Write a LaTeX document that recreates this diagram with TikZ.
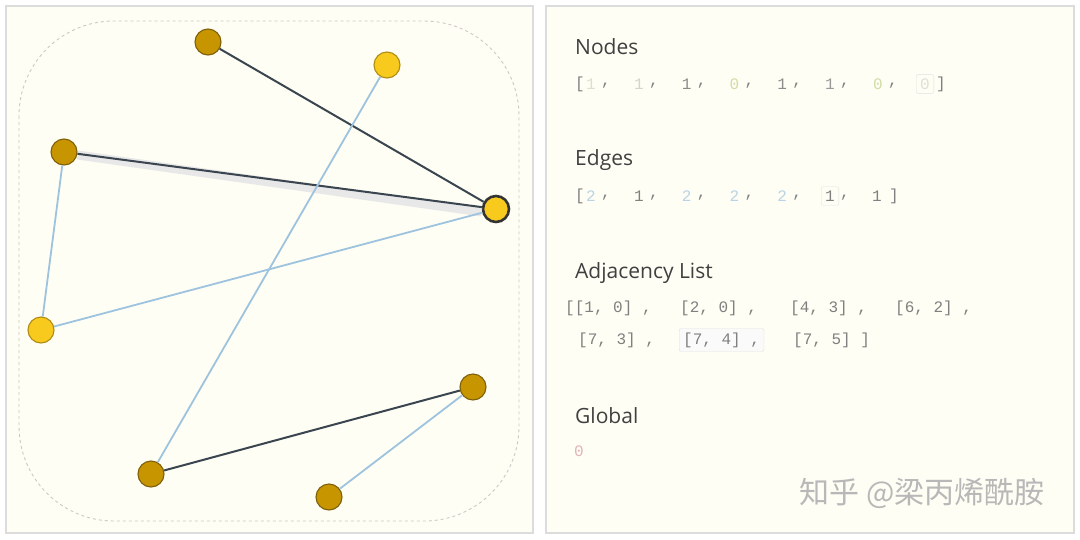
\documentclass[tikz,border=0pt]{standalone}
\usepackage{fontspec}
\setmainfont{Open Sans}
\setmonofont{Liberation Mono}
\newfontfamily\cjk{Noto Sans CJK SC}
\usetikzlibrary{positioning}
\definecolor{paper}{HTML}{FEFEF4}
\definecolor{frame}{HTML}{DCDCDC}
\definecolor{gold}{HTML}{C69500}
\definecolor{goldrim}{HTML}{7E600A}
\definecolor{sun}{HTML}{F8CA1E}
\definecolor{sunrim}{HTML}{B08C14}
\definecolor{slate}{HTML}{3A4550}
\definecolor{sky}{HTML}{9DC3DF}
\definecolor{pale}{HTML}{D2DDA6}
\definecolor{paleb}{HTML}{B9D3E4}
\definecolor{rose}{HTML}{E2B4BC}
\tikzset{
  panel/.style={draw=frame, line width=1.5pt, fill=paper},
  vtx/.style={circle, draw=#1rim, fill=#1, line width=1.1pt, minimum size=26pt, inner sep=0pt},
  hot/.style={circle, draw=black!80, fill=sun, line width=2.6pt, minimum size=26pt, inner sep=0pt},
  dk/.style={draw=slate, line width=2pt},
  lt/.style={draw=sky, line width=1.8pt},
  hdr/.style={font=\fontsize{21}{25}\selectfont, text=black!75, anchor=west, inner sep=0pt},
  val/.style={font=\ttfamily\fontsize{16}{19}\selectfont, text=black!50, inner sep=0pt},
  sel/.style={draw=black!12, rounded corners=2pt, inner sep=4pt}
}
\begin{document}
\begin{tikzpicture}[x=1pt, y=-1pt]
  \useasboundingbox (0,0) rectangle (1080,539);
  % panels
  \draw[panel] (6,6) rectangle (533,533);
  \draw[panel] (546,6) rectangle (1074,533);
  \draw[draw=red!15!black!22, dashed, line width=0.9pt, rounded corners=95pt] (19,21) rectangle (519,521);

  % graph
  \node[vtx=gold] (a) at (208,42) {};
  \node[vtx=sun]  (b) at (387,65) {};
  \node[vtx=gold] (c) at (64,152) {};
  \node[hot]      (d) at (496,209) {};
  \node[vtx=sun]  (e) at (41,330) {};
  \node[vtx=gold] (f) at (473,387) {};
  \node[vtx=gold] (g) at (151,474) {};
  \node[vtx=gold] (h) at (329,497) {};
  \draw[line width=9pt, blue!10!black!12, opacity=.7] ([yshift=-3pt]c.east) -- ([yshift=-3pt]d.west);
  \draw[dk] (a) -- (d);
  \draw[dk] (c) -- (d);
  \draw[lt] (c) -- (e);
  \draw[lt] (e) -- (d);
  \draw[lt] (b) -- (g);
  \draw[dk] (g) -- (f);
  \draw[lt] (f) -- (h);

  % nodes
  \node[hdr] (nodes) at (575,47) {Nodes};
  \node[val, anchor=west] (nb) at (575,84) {[};
  \foreach \v/\c [count=\i] in {1/pale!80!black!40, 1/pale!70!black!40, 1/black!45, 0/pale,
                                1/black!45, 1/black!40, 0/pale}
    \node[val, text=\c] (nv\i) at ({591+47.8*(\i-1)},84) {\v};
  \node[val, sel, text=pale!70!black!30] (nv8) at (925,84) {0};
  \foreach \i in {1,...,7}
    \node[val] at ({606+47.8*(\i-1)},86) {,};
  \node[val] (ne) at (941,84) {]};

  % edges
  \node[hdr] (edges) at (575,160) {Edges};
  \node[val, anchor=west] (eb) at (575,196) {[};
  \foreach \v/\c [count=\i] in {2/paleb, 1/black!50, 2/paleb, 2/paleb, 2/paleb}
    \node[val, text=\c] (ev\i) at ({591+47.8*(\i-1)},196) {\v};
  \node[val, sel, text=black!50] (ev6) at (830,196) {1};
  \node[val, text=black!50] (ev7) at (877,196) {1};
  \foreach \i in {1,...,6}
    \node[val] at ({606+47.8*(\i-1)},198) {,};
  \node[val] (ee) at (894,196) {]};

  % adjacency list
  \node[hdr] (adj) at (575,273) {Adjacency List};
  \node[val, anchor=west] (a1) at (565,308) {[[1, 0] ,};
  \node[val, anchor=west] (a2) at (680,308) {[2, 0] ,};
  \node[val, anchor=west] (a3) at (790,308) {[4, 3] ,};
  \node[val, anchor=west] (a4) at (895,308) {[6, 2] ,};
  \node[val, anchor=west] (a5) at (578,340) {[7, 3] ,};
  \node[val, sel, fill=black!2, anchor=west] (a6) at (679,340) {[7, 4] ,};
  \node[val, anchor=west] (a7) at (793,340) {[7, 5] ]};

  % global
  \node[hdr] (glob) at (575,416) {Global};
  \node[val, text=rose] (gv) at (579,451) {0};

  \node[font=\cjk\fontsize{30}{36}\selectfont, text=black!28] (wm) at (922,493) {知乎 @梁丙烯酰胺};
\end{tikzpicture}
\end{document}
